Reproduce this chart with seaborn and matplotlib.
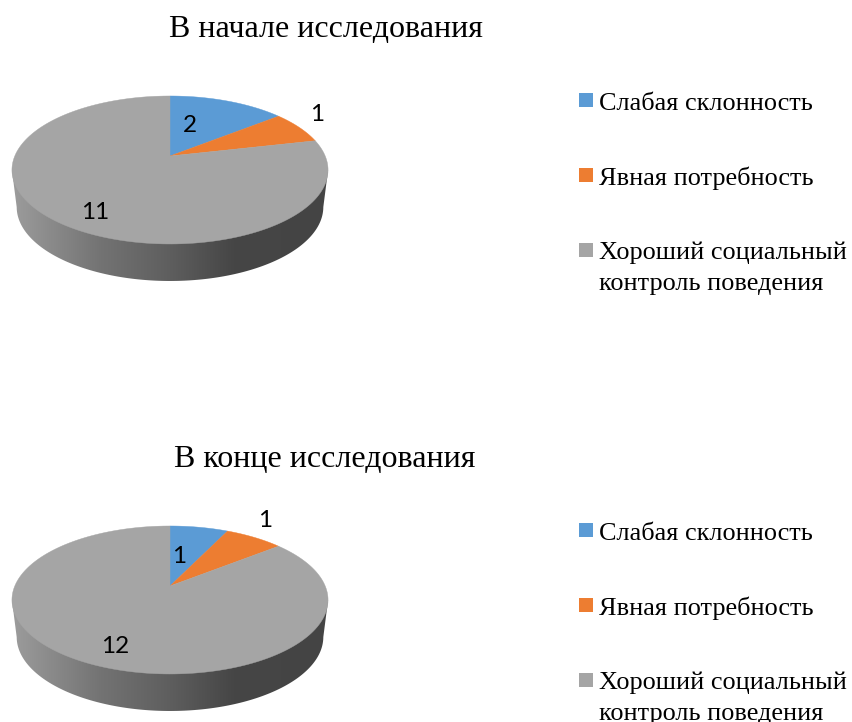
import numpy as np
import matplotlib
matplotlib.use("Agg")
import matplotlib.pyplot as plt
from matplotlib.patches import Polygon, Rectangle
from matplotlib.colors import LinearSegmentedColormap
import seaborn as sns

sns.set_theme(style="white")
plt.rcParams['font.family'] = ['Liberation Serif', 'DejaVu Sans']

categories = ["Слабая склонность", "Явная потребность", "Хороший социальный\nконтроль поведения"]
titles = ["В начале исследования", "В конце исследования"]
values_start = [2, 1, 11]
values_end = [1, 1, 12]
colors = sns.color_palette(["#5B9BD5", "#ED7D31", "#A5A5A5"])

W, H = 852, 722
PANEL_OFFSET = [0, 430]
APEX = (170, 156)
K, A, B = 0.189, 71.35, 155.2
DEPTH = 37
label_pos = [[(190, 125.5), (317, 114.5), (95, 212.5)], [(179, 126.5), (265, 90.5), (115, 216.5)]]
title_x = [326, 325]
marker_rows = [100, 175, 250]
text_rows = [110, 185, 258.5]
LINE_STEP = 31.5

fig = plt.figure(figsize=(W / 100, H / 100), dpi=100)
ax = fig.add_axes([0, 0, 1, 1])
ax.set_axis_off()


def project(t, r=1.0):
    """Perspective projection of a point on the pie disc; t clockwise from the top."""
    x, y = r * np.sin(t), r * np.cos(t)
    d = 1 + K * y
    return B * x / d, -A * y / d


side_cmap = LinearSegmentedColormap.from_list(
    "side", [(0, "#9c9c9c"), (0.28, "#737373"), (0.5, "#5e5e5e"), (0.7, "#464646"), (1, "#444444")])

for panel, (vals, off) in enumerate(zip([values_start, values_end], PANEL_OFFSET)):
    cx, cy = APEX[0], APEX[1] + off
    tt = np.linspace(0, 2 * np.pi, 361)
    X, Y = project(tt)
    # side wall: lower half of the disc shifted down, under the top face
    left, right = np.argmin(X), np.argmax(X)
    lo = np.linspace(tt[right], tt[left], 200)
    xb, yb = project(lo)
    poly = np.column_stack([
        np.r_[cx + X[right], cx + xb * 0.97, cx + X[left]],
        np.r_[cy + Y[right], cy + yb + DEPTH, cy + Y[left]],
    ])
    im = ax.imshow(np.linspace(0, 1, 256)[None, :], cmap=side_cmap, aspect="auto",
                   extent=(cx + X[left], cx + X[right], cy + 130, cy + 0), zorder=1)
    clip = Polygon(poly, closed=True, transform=ax.transData, fc="none", ec="none")
    ax.add_patch(clip)
    im.set_clip_path(clip)

    # top face
    edges = np.r_[0, np.cumsum(vals)] / np.sum(vals) * 2 * np.pi
    for i, c in enumerate(colors):
        a = np.linspace(edges[i], edges[i + 1], 200)
        px, py = project(a)
        ax.add_patch(Polygon(np.column_stack([np.r_[cx, cx + px], np.r_[cy, cy + py]]),
                             closed=True, fc=c, ec=c, lw=0.3, zorder=2))
        lx, ly = label_pos[panel][i]
        ax.text(lx, ly + off, str(vals[i]), family="Lato", fontsize=17.5, color="black",
                ha="center", va="center", zorder=3)

    ax.text(title_x[panel], 37 + off, titles[panel], fontsize=23, color="black",
            ha="center", va="baseline")

    for c, label, my, ty in zip(colors, categories, marker_rows, text_rows):
        ax.add_patch(Rectangle((579, my - 7 + off), 14, 14, fc=c, ec="none", zorder=2))
        for j, line in enumerate(label.split("\n")):
            ax.text(599, ty + j * LINE_STEP + off, line, fontsize=18.9, color="black",
                    ha="left", va="baseline")

ax.set_xlim(0, W)
ax.set_ylim(H, 0)
fig.savefig("out.png", dpi=100, facecolor="white")
